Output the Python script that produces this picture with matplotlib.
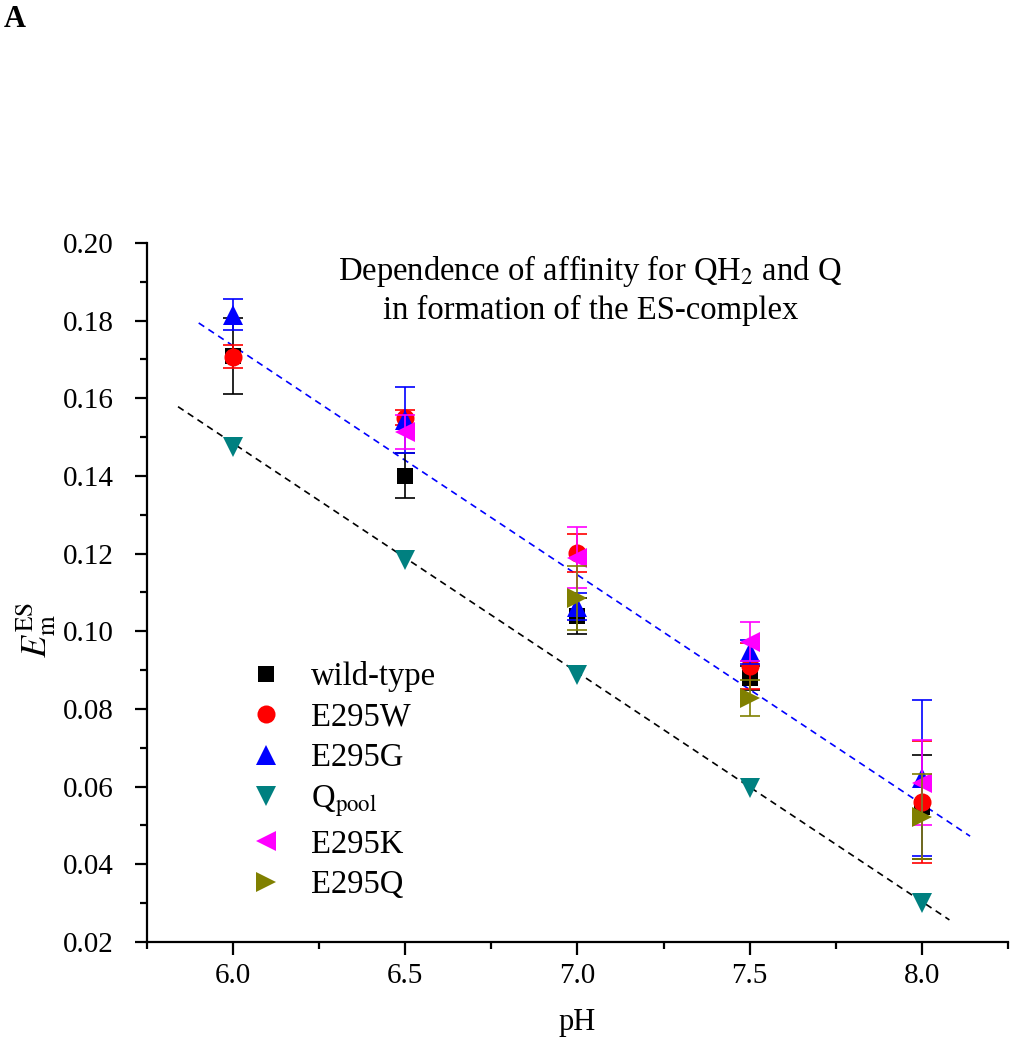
import matplotlib
matplotlib.use('Agg')
import matplotlib.pyplot as plt
from matplotlib.ticker import MultipleLocator
import numpy as np

plt.rcParams['font.family'] = ['Liberation Serif', 'DejaVu Serif']
plt.rcParams['mathtext.fontset'] = 'stix'

# values
ph = [6.0, 6.5, 7.0, 7.5, 8.0]
wild_type = [0.171, 0.140, 0.104, 0.088, 0.0548]
wild_type_err = [0.0098, 0.0058, 0.0047, 0.003, 0.0134]
e295w = [0.1707, 0.155, 0.1202, 0.0911, 0.0561]
e295w_err = [0.003, 0.002, 0.0049, 0.006, 0.0157]
e295g = [0.1815, 0.1545, 0.1063, 0.0947, 0.0622]
e295g_err = [0.004, 0.0085, 0.0035, 0.003, 0.020]
qpool = [0.1475, 0.1184, 0.0888, 0.0597, 0.0301]
ph_k = [6.5, 7.0, 7.5, 8.0]
e295k = [0.1513, 0.119, 0.0973, 0.061]
e295k_err = [0.0044, 0.0079, 0.005, 0.011]
ph_q = [7.0, 7.5, 8.0]
e295q = [0.1086, 0.0829, 0.0523]
e295q_err = [0.0082, 0.0046, 0.011]

# linear fits (slope ~ -59 mV/pH)
fit_slope = -0.059
blue_fit_intercept = 0.5275
blue_fit_range = (5.90, 8.14)
black_fit_intercept = 0.5024
black_fit_range = (5.84, 8.08)

fig = plt.figure(figsize=(10.12, 10.5), dpi=100)
ax = fig.add_axes([0.1453, 0.1029, 0.8507, 0.6657])

for rng, b, c in [(blue_fit_range, blue_fit_intercept, 'blue'),
                  (black_fit_range, black_fit_intercept, 'black')]:
    xx = np.array(rng)
    ax.plot(xx, b + fit_slope * xx, color=c, lw=1.2, dashes=(4, 3), zorder=1)

series = [
    (ph, wild_type, wild_type_err, 's', 'black', 11, 'wild-type'),
    (ph, e295w, e295w_err, 'o', 'red', 13, 'E295W'),
    (ph, e295g, e295g_err, '^', 'blue', 14, 'E295G'),
    (ph, qpool, None, 'v', '#008080', 14, 'Q$_{\\mathrm{pool}}$'),
    (ph_k, e295k, e295k_err, '<', '#ff00ff', 14, 'E295K'),
    (ph_q, e295q, e295q_err, '>', '#808000', 14, 'E295Q'),
]

z = 2
for x, y, err, m, c, ms, lab in series:
    if err is not None:
        ax.errorbar(x, y, yerr=err, fmt='none', ecolor=c, elinewidth=1.2,
                    capsize=7, capthick=1.2, zorder=z)
    ax.plot(x, y, ls='none', marker=m, color=c, ms=ms, mew=0, label=lab,
            zorder=z + 1)
    z += 2

ax.set_xlim(5.75, 8.25)
ax.set_ylim(0.02, 0.20)
ax.xaxis.set_major_locator(MultipleLocator(0.5))
ax.xaxis.set_minor_locator(MultipleLocator(0.25))
ax.yaxis.set_major_locator(MultipleLocator(0.02))
ax.yaxis.set_minor_locator(MultipleLocator(0.01))
ax.xaxis.set_major_formatter(matplotlib.ticker.FormatStrFormatter('%.1f'))
ax.yaxis.set_major_formatter(matplotlib.ticker.FormatStrFormatter('%.2f'))
for s in ['top', 'right']:
    ax.spines[s].set_visible(False)
for s in ['left', 'bottom']:
    ax.spines[s].set_linewidth(1.6)
ax.tick_params(which='major', direction='out', length=9, width=1.6,
               labelsize=21)
ax.tick_params(which='minor', direction='out', length=5, width=1.6)
ax.tick_params(axis='x', which='major', pad=6)
ax.tick_params(axis='y', which='major', pad=15)

ax.set_xlabel('pH', fontsize=22, labelpad=14)
ax.set_ylabel('$E_{\\mathrm{m}}^{\\mathrm{ES}}$', fontsize=26)
ax.yaxis.set_label_coords(-0.103, 0.446)

ax.text(0.515, 0.933,
        'Dependence of affinity for QH$_2$ and Q\nin formation of the ES-complex',
        transform=ax.transAxes, ha='center', va='center', fontsize=23.5,
        linespacing=1.25)

ax.legend(loc='upper left', bbox_to_anchor=(0.1, 0.425), frameon=False,
          fontsize=23.5, handlelength=1.0, handletextpad=0.9,
          labelspacing=0.31, borderpad=0)

fig.text(0.004, 0.995, 'A', fontsize=22, fontweight='bold', va='top')

fig.savefig('out.png', dpi=100)
